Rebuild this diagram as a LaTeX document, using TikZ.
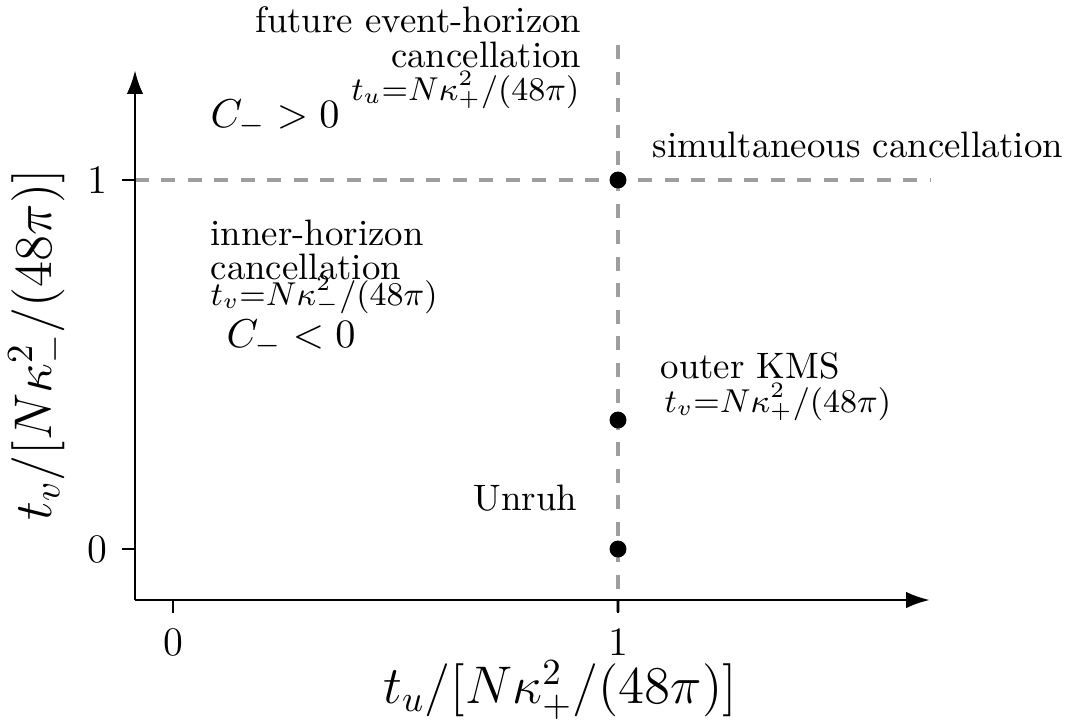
\documentclass[tikz,border=0pt]{standalone}
\usetikzlibrary{arrows.meta}
\begin{document}
\begin{tikzpicture}[x=0.27174pt,y=-0.27174pt,
  axisline/.style={line width=0.8pt, -{Latex[length=6.5pt,width=4.5pt]}},
  tickline/.style={line width=0.8pt},
  guide/.style={line width=0.9pt, draw=black!38, dash pattern=on 3.8pt off 3.4pt},
  dot/.style={circle, fill=black, inner sep=0pt, minimum size=4.6pt},
  lbl/.style={inner sep=0pt, font=\fontsize{10}{12}\selectfont},
  small/.style={inner sep=0pt, font=\fontsize{12.6}{14}\selectfont},
  region/.style={inner sep=0pt, font=\fontsize{11}{13}\selectfont},
  ticklbl/.style={inner sep=0pt, font=\fontsize{11}{13}\selectfont},
  axlbl/.style={inner sep=0pt, font=\fontsize{13.6}{16}\selectfont}]
\useasboundingbox (0,0) rectangle (1069,722);
% guides
\coordinate (vtop) at (618,45);
\coordinate (vbot) at (618,612);
\coordinate (hl) at (135,180);
\coordinate (hr) at (930,180);
\draw[guide] (vtop) -- (vbot);
\draw[guide] (hl) -- (hr);
% axes
\coordinate (O) at (135,600);
\coordinate (xend) at (930,600);
\coordinate (yend) at (135,70);
\draw[axisline] (O) -- (xend);
\draw[axisline] (O) -- (yend);
% ticks
\coordinate (tx0) at (173,600); \coordinate (tx0b) at (173,613);
\coordinate (tx1) at (618,600); \coordinate (tx1b) at (618,613);
\coordinate (ty0) at (135,549); \coordinate (ty0b) at (122,549);
\coordinate (ty1) at (135,180); \coordinate (ty1b) at (122,180);
\draw[tickline] (tx0) -- (tx0b);
\draw[tickline] (tx1) -- (tx1b);
\draw[tickline] (ty0) -- (ty0b);
\draw[tickline] (ty1) -- (ty1b);
\node[ticklbl] (lx0) at (173,642) {0};
\node[ticklbl] (lx1) at (618,642) {1};
\node[ticklbl] (ly0) at (97,549) {0};
\node[ticklbl] (ly1) at (97,180) {1};
% axis labels
\node[axlbl] (xlab) at (560,690) {$t_u/[N\kappa^2_+/(48\pi)]$};
\node[axlbl, rotate=90] (ylab) at (38,345) {$t_v/[N\kappa^2_-/(48\pi)]$};
% dots
\node[dot] (sim) at (618,180) {};
\node[dot] (kms) at (618,420) {};
\node[dot] (unr) at (618,549) {};
% labels
\node[lbl, anchor=base east] (feh1) at (582,32) {future event-horizon};
\node[lbl, anchor=base east] (feh2) at (582,67) {cancellation};
\node[small, anchor=base east] (feh3) at (580,100) {$\scriptstyle t_u=N\kappa^2_+/(48\pi)$};
\node[region, anchor=base west] (cpos) at (210,127) {$C_->0$};
\node[lbl, anchor=base west] (simlbl) at (652,157) {simultaneous cancellation};
\node[lbl, anchor=base west] (ih1) at (210,245) {inner-horizon};
\node[lbl, anchor=base west] (ih2) at (210,279) {cancellation};
\node[small, anchor=base west] (ih3) at (210,305) {$\scriptstyle t_v=N\kappa^2_-/(48\pi)$};
\node[region, anchor=base west] (cneg) at (226,347) {$C_-<0$};
\node[lbl, anchor=base west] (okms1) at (660,378) {outer KMS};
\node[small, anchor=base west] (okms2) at (664,412) {$\scriptstyle t_v=N\kappa^2_+/(48\pi)$};
\node[lbl, anchor=base east] (unruh) at (578,510) {Unruh};
\end{tikzpicture}
\end{document}
